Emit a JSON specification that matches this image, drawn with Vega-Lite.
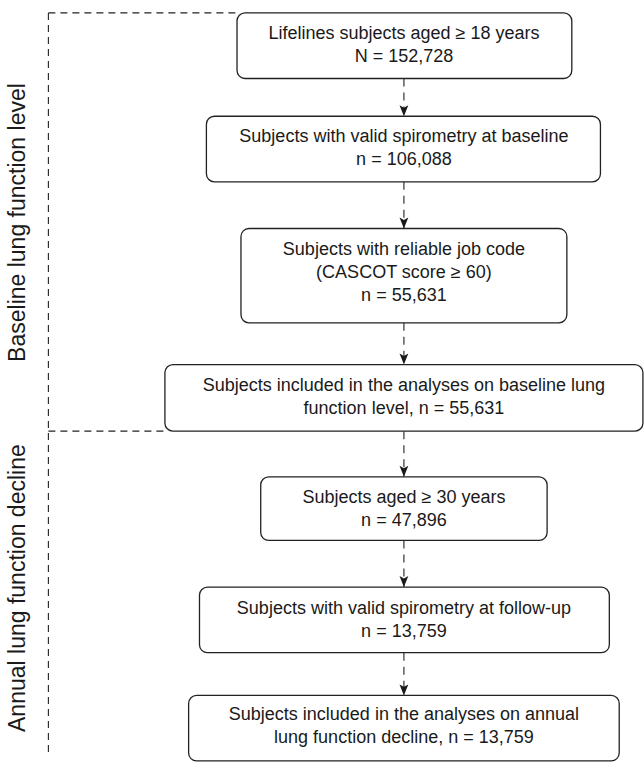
{
  "$schema": "https://vega.github.io/schema/vega-lite/v6.json",
  "width": 644,
  "height": 762,
  "autosize": {"type": "fit", "contains": "padding"},
  "padding": 0,
  "background": "white",
  "config": {"view": {"stroke": null}},
  "datasets": {
    "frame": [
      {"x": 49, "x2": 49, "y": 13, "y2": 762},
      {"x": 49, "x2": 240, "y": 13, "y2": 13},
      {"x": 49, "x2": 167, "y": 434, "y2": 434}
    ],
    "arrows": [
      {"ax": 409, "from": 79, "to": 117},
      {"ax": 409, "from": 183, "to": 230},
      {"ax": 409, "from": 325, "to": 367},
      {"ax": 409, "from": 434, "to": 480},
      {"ax": 409, "from": 544, "to": 591},
      {"ax": 409, "from": 657, "to": 700}
    ],
    "boxes": [
      {"x1": 240, "x2": 579, "y1": 13, "y2": 79, "cx": 409, "ty": 34, "label": "Lifelines subjects aged \u2265 18 years\nN = 152,728"},
      {"x1": 209, "x2": 608, "y1": 117, "y2": 183, "cx": 409, "ty": 138, "label": "Subjects with valid spirometry at baseline\nn = 106,088"},
      {"x1": 244, "x2": 574, "y1": 230, "y2": 325, "cx": 409, "ty": 252, "label": "Subjects with reliable job code\n(CASCOT score \u2265 60)\nn = 55,631"},
      {"x1": 167, "x2": 651, "y1": 367, "y2": 434, "cx": 409, "ty": 389, "label": "Subjects included in the analyses on baseline lung\nfunction level, n = 55,631"},
      {"x1": 264, "x2": 554, "y1": 480, "y2": 544, "cx": 409, "ty": 501, "label": "Subjects aged \u2265 30 years\nn = 47,896"},
      {"x1": 202, "x2": 617, "y1": 591, "y2": 657, "cx": 409, "ty": 613, "label": "Subjects with valid spirometry at follow-up\nn = 13,759"},
      {"x1": 191, "x2": 627, "y1": 700, "y2": 766, "cx": 409, "ty": 720, "label": "Subjects included in the analyses on annual\nlung function decline, n = 13,759"}
    ],
    "sides": [
      {"sx": 18, "sy": 224, "label": "Baseline lung function level"},
      {"sx": 18, "sy": 592, "label": "Annual lung function decline"}
    ]
  },
  "layer": [
    {
      "data": {"name": "frame"},
      "mark": {"type": "rule", "strokeDash": [7, 5], "color": "#222222", "strokeWidth": 1.1},
      "encoding": {
        "x": {"field": "x", "type": "quantitative", "scale": {"domain": [0, 644], "nice": false, "zero": false}, "axis": null},
        "x2": {"field": "x2"},
        "y": {"field": "y", "type": "quantitative", "scale": {"domain": [0, 762], "nice": false, "zero": false, "reverse": true}, "axis": null},
        "y2": {"field": "y2"}
      }
    },
    {
      "data": {"name": "arrows"},
      "mark": {"type": "rule", "strokeDash": [8, 6], "color": "#222222", "strokeWidth": 1.1},
      "encoding": {
        "x": {"field": "ax", "type": "quantitative", "scale": {"domain": [0, 644], "nice": false, "zero": false}, "axis": null},
        "y": {"field": "from", "type": "quantitative", "scale": {"domain": [0, 762], "nice": false, "zero": false, "reverse": true}, "axis": null},
        "y2": {"field": "to"}
      }
    },
    {
      "data": {"name": "boxes"},
      "mark": {"type": "rect", "fill": "white", "stroke": "#222222", "strokeWidth": 1.3, "cornerRadius": 8},
      "encoding": {
        "x": {"field": "x1", "type": "quantitative", "scale": {"domain": [0, 644], "nice": false, "zero": false}, "axis": null},
        "x2": {"field": "x2"},
        "y": {"field": "y1", "type": "quantitative", "scale": {"domain": [0, 762], "nice": false, "zero": false, "reverse": true}, "axis": null},
        "y2": {"field": "y2"}
      }
    },
    {
      "data": {"name": "arrows"},
      "mark": {"type": "point", "shape": "M-0.4,-1L0,-0.78L0.4,-1L0,0Z", "size": 484, "filled": true, "fill": "#1a1a1a", "strokeWidth": 0, "opacity": 1},
      "encoding": {
        "x": {"field": "ax", "type": "quantitative", "scale": {"domain": [0, 644], "nice": false, "zero": false}, "axis": null},
        "y": {"field": "to", "type": "quantitative", "scale": {"domain": [0, 762], "nice": false, "zero": false, "reverse": true}, "axis": null}
      }
    },
    {
      "data": {"name": "boxes"},
      "mark": {"type": "text", "font": "Liberation Sans", "fontSize": 18, "lineHeight": 23, "lineBreak": "\n", "align": "center", "baseline": "middle", "color": "#1a1a1a"},
      "encoding": {
        "x": {"field": "cx", "type": "quantitative", "scale": {"domain": [0, 644], "nice": false, "zero": false}, "axis": null},
        "y": {"field": "ty", "type": "quantitative", "scale": {"domain": [0, 762], "nice": false, "zero": false, "reverse": true}, "axis": null},
        "text": {"field": "label"}
      }
    },
    {
      "data": {"name": "sides"},
      "mark": {"type": "text", "font": "Liberation Sans", "fontSize": 23, "angle": 270, "align": "center", "baseline": "middle", "color": "#1a1a1a"},
      "encoding": {
        "x": {"field": "sx", "type": "quantitative", "scale": {"domain": [0, 644], "nice": false, "zero": false}, "axis": null},
        "y": {"field": "sy", "type": "quantitative", "scale": {"domain": [0, 762], "nice": false, "zero": false, "reverse": true}, "axis": null},
        "text": {"field": "label"}
      }
    }
  ]
}
